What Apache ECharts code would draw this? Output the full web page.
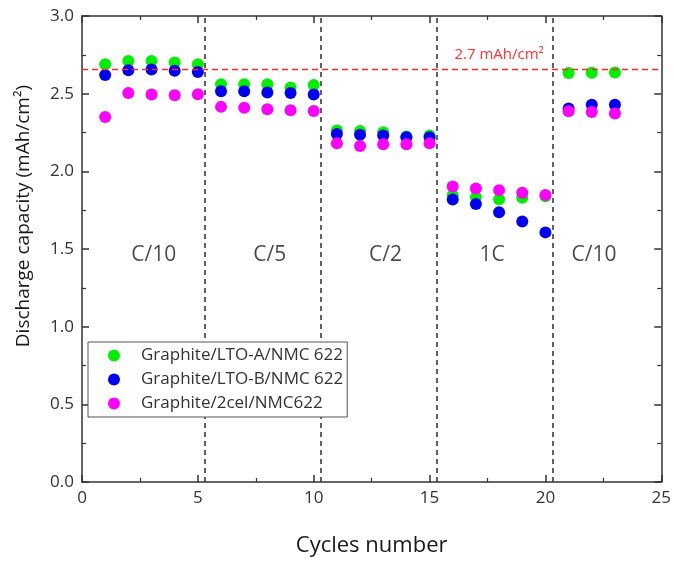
<!DOCTYPE html>
<html><head><meta charset="utf-8">
<script src="https://cdn.jsdelivr.net/npm/echarts@6/dist/echarts.min.js"></script>
<style>html,body{margin:0;padding:0;background:#fff}#c{width:674px;height:566px}</style>
</head><body><div id="c"></div>
<script>
const cycles = [1,2,3,4,5,6,7,8,9,10,11,12,13,14,15,16,17,18,19,20,21,22,23];
const seriesNames = ['Graphite/LTO-A/NMC 622','Graphite/LTO-B/NMC 622','Graphite/2cel/NMC622'];
const ltoA = [2.69,2.71,2.71,2.70,2.69, 2.56,2.56,2.56,2.54,2.555, 2.263,2.259,2.252,2.225,2.231, 1.846,1.835,1.82,1.83,1.84, 2.633,2.635,2.637];
const ltoB = [2.62,2.65,2.655,2.648,2.64, 2.515,2.515,2.508,2.505,2.495, 2.241,2.236,2.231,2.22,2.22, 1.818,1.79,1.737,1.677,1.607, 2.405,2.428,2.428];
const cel2 = [2.35,2.505,2.495,2.49,2.497, 2.415,2.41,2.40,2.393,2.388, 2.18,2.163,2.175,2.175,2.18, 1.902,1.89,1.879,1.862,1.848, 2.387,2.382,2.372];
const rateLabels = ['C/10','C/5','C/2','1C','C/10'];
const rateLabelX = [3.1,8.1,13.1,17.7,22.1];
const rateLabelY = 1.46;
const dividerX = [5.3,10.3,15.3,20.3];
const targetCapacity = 2.66;
const targetLabel = '2.7 mAh/cm²';
const xTicks = {min:0,max:25,interval:5};
const yTicks = {min:0,max:3,interval:0.5};
const xName = 'Cycles number';
const yName = 'Discharge capacity (mAh/cm²)';

const colors = ['#00ee00','#0000f0','#ff00ff'];
const font = 'Open Sans';
const chart = echarts.init(document.getElementById('c'));
const mkPts = arr => cycles.map((c,i)=>[c,arr[i]]);
const axisCommon = {
  axisLine:{show:true,onZero:false,lineStyle:{color:'#333',width:1.5}},
  axisTick:{show:true,inside:true,length:7,lineStyle:{color:'#333',width:1.5}},
  minorTick:{show:true,splitNumber:2,length:4,lineStyle:{color:'#333',width:1.2}},
  splitLine:{show:false}
};
const data = [ltoA,ltoB,cel2];
const series = data.map((d,i)=>({
  name:seriesNames[i], type:'scatter', data:mkPts(d), symbol:'circle', symbolSize:12,
  itemStyle:{color:colors[i],opacity:1}, z:3+i
}));
series.push({
  type:'scatter', name:'labels', data:rateLabels.map((t,i)=>({value:[rateLabelX[i],rateLabelY],name:t})),
  symbolSize:0, silent:true,
  label:{show:true,position:'inside',formatter:p=>p.name,fontFamily:font,fontSize:21,color:'#1a1a1a'},
  markLine:{silent:true,symbol:'none',label:{show:false},
    data:dividerX.map(x=>({xAxis:x,lineStyle:{type:[5,4],color:'#3a3a3a',width:1.6}})).concat([
      {yAxis:targetCapacity,lineStyle:{type:[6,4],color:'#ff2a2a',width:1.4}}])},
  markPoint:{silent:true,symbol:'circle',symbolSize:0,
    data:[{coord:[18.0,2.75],value:targetLabel,label:{show:true,formatter:targetLabel,fontFamily:font,fontSize:15,color:'#ff3333'}}]}
});
chart.setOption({
  animation:false,
  grid:{left:82,right:12,top:16,bottom:84},
  graphic:[{type:'text',x:24,y:216,rotation:Math.PI/2,
    style:{text:yName,fontFamily:font,fontSize:19,fill:'#1a1a1a',align:'center',verticalAlign:'middle'}}],
  legend:{show:true,orient:'vertical',left:88,top:342,data:seriesNames,z:20,
    itemWidth:12,itemHeight:12,itemGap:7,padding:[5,4,5,20],
    backgroundColor:'#fff',borderColor:'#555',borderWidth:1,
    textStyle:{fontFamily:font,fontSize:17,color:'#333',padding:[0,0,0,16]}},
  xAxis:[
    Object.assign({type:'value',min:xTicks.min,max:xTicks.max,interval:xTicks.interval,
      name:xName,nameLocation:'middle',nameGap:53,
      nameTextStyle:{fontFamily:font,fontSize:22,color:'#1a1a1a'},
      axisLabel:{fontFamily:font,fontSize:17,color:'#333',margin:8}},axisCommon),
    Object.assign({type:'value',position:'top',min:xTicks.min,max:xTicks.max,interval:xTicks.interval,axisLabel:{show:false}},axisCommon)
  ],
  yAxis:[
    Object.assign({type:'value',min:yTicks.min,max:yTicks.max,interval:yTicks.interval,
      axisLabel:{fontFamily:font,fontSize:17,color:'#333',margin:8,formatter:v=>v.toFixed(1)}},axisCommon),
    Object.assign({type:'value',position:'right',min:yTicks.min,max:yTicks.max,interval:yTicks.interval,axisLabel:{show:false}},axisCommon)
  ],
  series
});
</script></body></html>
